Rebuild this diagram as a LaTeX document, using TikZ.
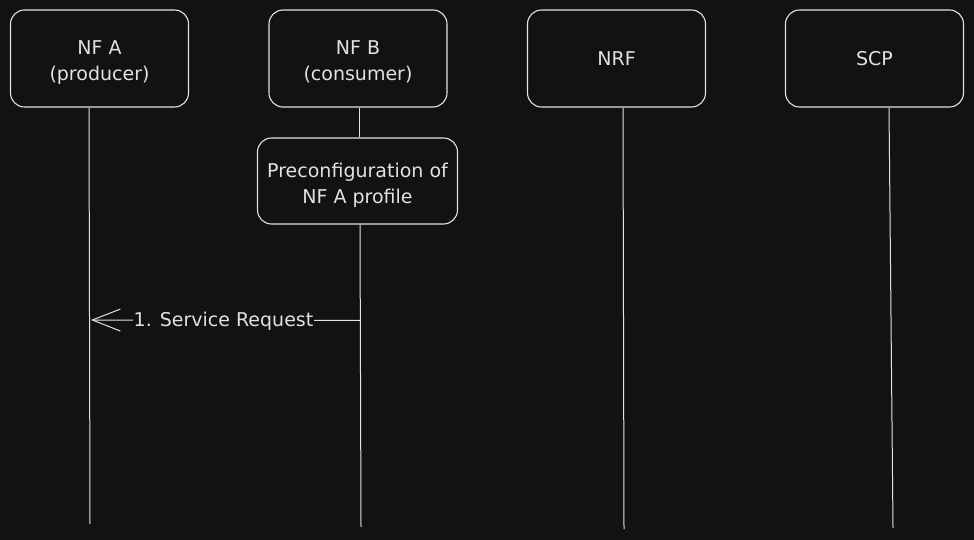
\documentclass[tikz,border=0pt]{standalone}
\usepackage{fontspec}
\setmainfont{DejaVu Sans}
\usetikzlibrary{arrows.meta}
\definecolor{bg}{HTML}{121212}
\definecolor{ink}{HTML}{E2E2E2}
\newcommand{\lowtext}[2]{\raisebox{#1}[0pt][0pt]{\begin{tabular}{@{}c@{}}#2\end{tabular}}}
\begin{document}
\begin{tikzpicture}[x=1pt,y=-1pt,
  actor/.style={draw=ink,line width=1.1pt,rounded corners=14pt,minimum width=178pt,minimum height=97pt,text=ink,align=center,font=\fontsize{19}{26}\selectfont,inner sep=0pt},
  notebox/.style={draw=ink,line width=1.1pt,rounded corners=14pt,minimum width=200pt,minimum height=86pt,text=ink,align=center,font=\fontsize{19}{26}\selectfont,inner sep=0pt},
  life/.style={draw=ink,line width=1pt},
  msg/.style={draw=ink,line width=1pt,-{Straight Barb[length=28pt,width=22pt,line width=1pt]}},
  lbl/.style={text=ink,font=\fontsize{19}{22}\selectfont,fill=bg,inner sep=1pt}]
\fill[bg] (0,0) rectangle (974,540);
\useasboundingbox (0,0) rectangle (974,540);
\node[actor] (nfa) at (99.5,58.5) {\lowtext{-8pt}{NF A\\(producer)}};
\node[actor] (nfb) at (358,58.5) {\lowtext{-8pt}{NF B\\(consumer)}};
\node[actor] (nrf) at (616.5,58.5) {\lowtext{-6pt}{NRF}};
\node[actor] (scp) at (874.5,58.5) {\lowtext{-6pt}{SCP}};
\node[notebox] (pre) at (357.5,181) {\lowtext{-8.5pt}{Preconfiguration of\\NF A profile}};
\coordinate (nfaend) at (90,524);
\coordinate (nfbend) at (361,527);
\coordinate (nrfend) at (624,529);
\coordinate (scpend) at (893,528);
\coordinate (nfatop) at (89,107.6);
\coordinate (nfbtop) at (359,107.6);
\coordinate (nrftop) at (623,107.6);
\coordinate (scptop) at (889,107.6);
\coordinate (pretop) at (359,137.4);
\coordinate (prebot) at (360,224.6);
\draw[life] (nfatop) -- (nfaend);
\draw[life] (nfbtop) -- (pretop);
\draw[life] (prebot) -- (nfbend);
\draw[life] (nrftop) -- (nrfend);
\draw[life] (scptop) -- (scpend);
\coordinate (m1s) at (360,320.5);
\coordinate (m1e) at (91,320);
\draw[msg] (m1s) -- node[lbl,xshift=-2pt,yshift=-1.5pt] (m1l) {1. Service Request} (m1e);
\end{tikzpicture}
\end{document}
